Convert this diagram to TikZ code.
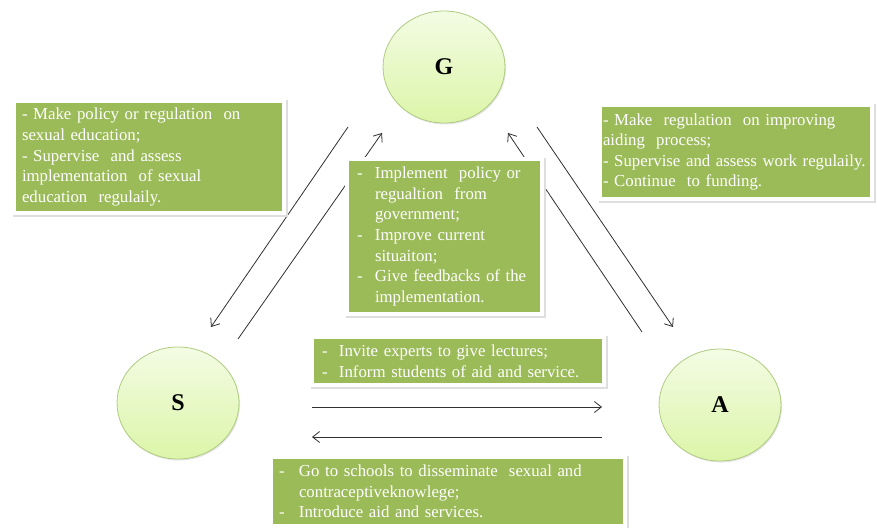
\documentclass[tikz,border=0pt]{standalone}
\usepackage{fontspec}
\setmainfont{Liberation Serif}
\usetikzlibrary{shapes.geometric,arrows.meta}
\definecolor{boxgreen}{HTML}{9BBB59}
\definecolor{circtop}{HTML}{F3FCE4}
\definecolor{circbot}{HTML}{DCF5A8}
\definecolor{circedge}{HTML}{AFCB80}
\definecolor{arrowc}{HTML}{303030}
\newcommand{\dashat}[1]{\makebox[#1][l]{-}}
\newcommand{\indat}[1]{\hspace*{#1}}
\newcommand{\nohyphs}{\hyphenpenalty 10000\exhyphenpenalty 10000\relax}
\tikzset{
  party/.style={ellipse, minimum width=122pt, minimum height=112pt, inner sep=0pt,
    top color=circtop, bottom color=circbot, draw=circedge, line width=0.8pt,
    font=\fontsize{24}{28}\selectfont\bfseries,
    preaction={fill=black!10, transform canvas={xshift=1pt,yshift=-1.5pt}}},
  gbox/.style={rectangle, fill=boxgreen, draw=white, line width=4pt, inner ysep=3pt,
    align=left, text=white,
    font=\fontsize{16.8}{20.6}\selectfont\nohyphs,
    preaction={draw=black!13, fill=black!13, line width=5pt, transform canvas={xshift=1pt,yshift=-1.5pt}}},
  link/.style={draw=arrowc, line width=0.8pt},
  tip/.style={-{Straight Barb[length=7pt,width=11pt]}}
}
\begin{document}
\begin{tikzpicture}[x=1pt,y=-1pt]
\useasboundingbox (0,0) rectangle (877,527);
% parties
\node[party] (G) at (444,67) {G};
\node[party] (S) at (178,403) {S};
\node[party] (A) at (720,405) {A};
% arrow end points
\coordinate (g1) at (348,127);
\coordinate (s1) at (211,327);
\coordinate (s2) at (238,339);
\coordinate (g2) at (382,133);
\coordinate (g3) at (537,127);
\coordinate (a3) at (673,327);
\coordinate (a4) at (642,332);
\coordinate (g4) at (508,133);
\coordinate (s5) at (312,407);
\coordinate (a5) at (602,407);
\coordinate (a6) at (602,437);
\coordinate (s6) at (312,437);
\draw[link,tip] (g1) -- (s1);
\draw[link,tip] (s2) -- (g2);
\draw[link,tip] (g3) -- (a3);
\draw[link,tip] (a4) -- (g4);
\draw[link,tip] (s5) -- (a5);
\draw[link,tip] (a6) -- (s6);
% boxes
\node[gbox, anchor=north west, text width=254pt, inner xsep=8pt, minimum height=112pt] (bGS) at (12,99)
 {- Make policy or regulation~ on\\
  sexual education;\\
  - Supervise~ and assess\\
  implementation~ of sexual\\
  education~ regulaily.};
\node[gbox, anchor=north west, text width=266pt, inner xsep=3pt, minimum height=94pt] (bGA) at (598,103)
 {- Make~ regulation~ on improving\\
  aiding~ process;\\
  - Supervise and assess work regulaily.\\
  - Continue~ to funding.};
\node[gbox, anchor=north west, text width=175pt, inner xsep=10pt, minimum height=155pt] (bSG) at (345,157)
 {\dashat{18pt}Implement~ policy or\\
  \indat{18pt}regualtion~ from\\
  \indat{18pt}government;\\
  \dashat{18pt}Improve current\\
  \indat{18pt}situaiton;\\
  \dashat{18pt}Give feedbacks of the\\
  \indat{18pt}implementation.};
\node[gbox, anchor=north west, text width=272pt, inner xsep=10pt, minimum height=48pt] (bSA) at (310,335)
 {\dashat{17pt}Invite experts to give lectures;\\
  \dashat{17pt}Inform students of aid and service.};
\node[gbox, anchor=north west, text width=338pt, inner xsep=8pt, minimum height=69pt] (bAS) at (269,455)
 {\dashat{20pt}Go to schools to disseminate~ sexual and\\
  \indat{20pt}contraceptiveknowlege;\\
  \dashat{20pt}Introduce aid and services.};
\end{tikzpicture}
\end{document}
